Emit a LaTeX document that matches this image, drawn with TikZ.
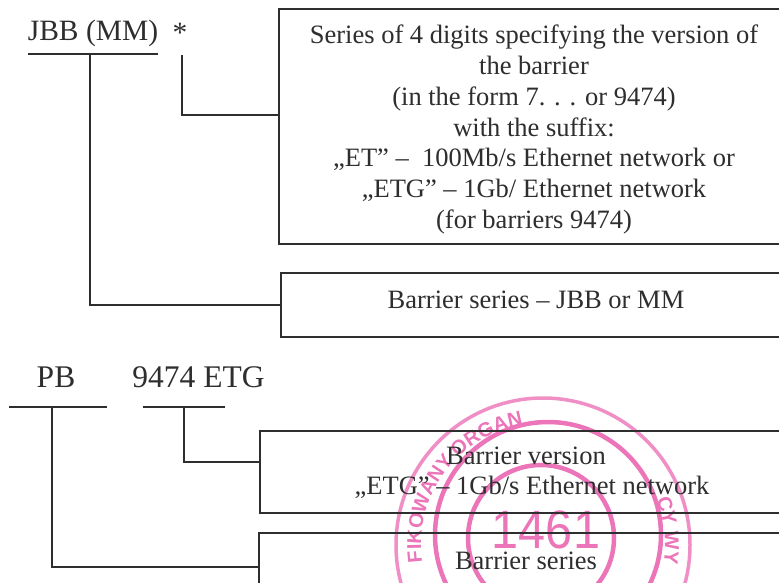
\documentclass[tikz,border=0pt]{standalone}
\usepackage{fontspec}
\setmainfont{Liberation Serif}
\newfontfamily\stampfont{Liberation Sans}
\usetikzlibrary{decorations.text}
\definecolor{inkc}{HTML}{2E2E2E}
\definecolor{stampc}{HTML}{EC74B8}
\tikzset{
  rule/.style={draw=inkc,line width=1.5pt},
  lab/.style={text=inkc,inner sep=0pt,font=\fontsize{26.5}{30.8}\selectfont},
  biglab/.style={lab,font=\fontsize{29.5}{32}\selectfont},
  hugelab/.style={lab,font=\fontsize{31.5}{34}\selectfont},
  body/.style={lab,align=center},
  ring/.style={draw=stampc,line width=4.5pt}
}
\begin{document}
\begin{tikzpicture}[x=1pt,y=-1pt]
\useasboundingbox (0,0) rectangle (779,582);
\clip (0,0) rectangle (779,582);
\fill[white] (0,0) rectangle (779,582);
% stamp
\draw[ring,line width=3.5pt,opacity=.8] (543,545) circle[radius=147];
\draw[ring] (548,535) circle[radius=113];
\draw[ring] (541,538) circle[radius=73];
\begin{scope}[shift={(543,545)},y=1pt]
  \path[postaction={decorate,decoration={text along path,text align=fit to path,
      text={|\stampfont\bfseries\fontsize{20}{20}\selectfont\color{stampc}|FIKOWANY ORGAN}}}]
      (188:122) arc[start angle=188,end angle=100,radius=122];
  \path[postaction={decorate,decoration={text along path,text align=fit to path,
      text={|\stampfont\bfseries\fontsize{20}{20}\selectfont\color{stampc}|CY WY}}}]
      (22:122) arc[start angle=22,end angle=-8,radius=122];
\end{scope}
\node[text=stampc,xscale=.9,font=\stampfont\fontsize{54}{54}\selectfont] (stampnum) at (546,530) {1461};
% upper labels
\node[biglab] (jbb) at (93,33) {JBB (MM)};
\node[biglab] (star) at (180,33) {*};
\coordinate (jbbL) at (28,54);
\coordinate (jbbR) at (158,54);
\coordinate (jbbT) at (90,54);
\coordinate (starT) at (182,55);
\draw[rule] (jbbL) -- (jbbR);
% box 1
\coordinate (b1tl) at (279,9);
\coordinate (b1tr) at (779,9);
\coordinate (b1bl) at (279,244);
\coordinate (b1br) at (779,244);
\coordinate (b1m) at (279,115);
\draw[rule] (b1tr) -- (b1tl) -- (b1bl) -- (b1br);
\node[body] (b1) at (534,129.5) {Series of 4 digits specifying the version of\\the barrier\\(in the form 7. . . or 9474)\\with the suffix:\\„ET” –\ \ 100Mb/s Ethernet network or\\„ETG” – 1Gb/ Ethernet network\\(for barriers 9474)};
% box 2
\coordinate (b2tl) at (281,273);
\coordinate (b2tr) at (779,273);
\coordinate (b2bl) at (281,337);
\coordinate (b2br) at (779,337);
\coordinate (b2m) at (281,305);
\draw[rule] (b2tr) -- (b2tl) -- (b2bl) -- (b2br);
\node[lab] (b2) at (536,300) {Barrier series – JBB or MM};
\draw[rule] (starT) |- (b1m);
\draw[rule] (jbbT) |- (b2m);
% lower labels
\node[hugelab] (pb) at (56,377) {PB};
\node[hugelab] (ver) at (198.5,377) {9474 ETG};
\coordinate (pbL) at (9,407);
\coordinate (pbR) at (107,407);
\coordinate (pbT) at (52,407);
\coordinate (verL) at (143,407);
\coordinate (verR) at (225,407);
\coordinate (verT) at (184,407);
\draw[rule] (pbL) -- (pbR);
\draw[rule] (verL) -- (verR);
% box 3
\coordinate (b3tl) at (260,431);
\coordinate (b3tr) at (779,431);
\coordinate (b3bl) at (260,513);
\coordinate (b3br) at (779,513);
\coordinate (b3m) at (260,462);
\draw[rule] (b3tr) -- (b3tl) -- (b3bl) -- (b3br);
\node[lab] (b3a) at (526,456) {Barrier version};
\node[lab] (b3b) at (532,487) {„ETG” – 1Gb/s Ethernet network};
% box 4
\coordinate (b4tl) at (259,533);
\coordinate (b4tr) at (779,533);
\coordinate (b4bl) at (259,590);
\coordinate (b4m) at (259,567);
\draw[rule] (b4tr) -- (b4tl) -- (b4bl);
\node[lab] (b4) at (526,561) {Barrier series};
\draw[rule] (verT) |- (b3m);
\draw[rule] (pbT) |- (b4m);
\end{tikzpicture}
\end{document}
